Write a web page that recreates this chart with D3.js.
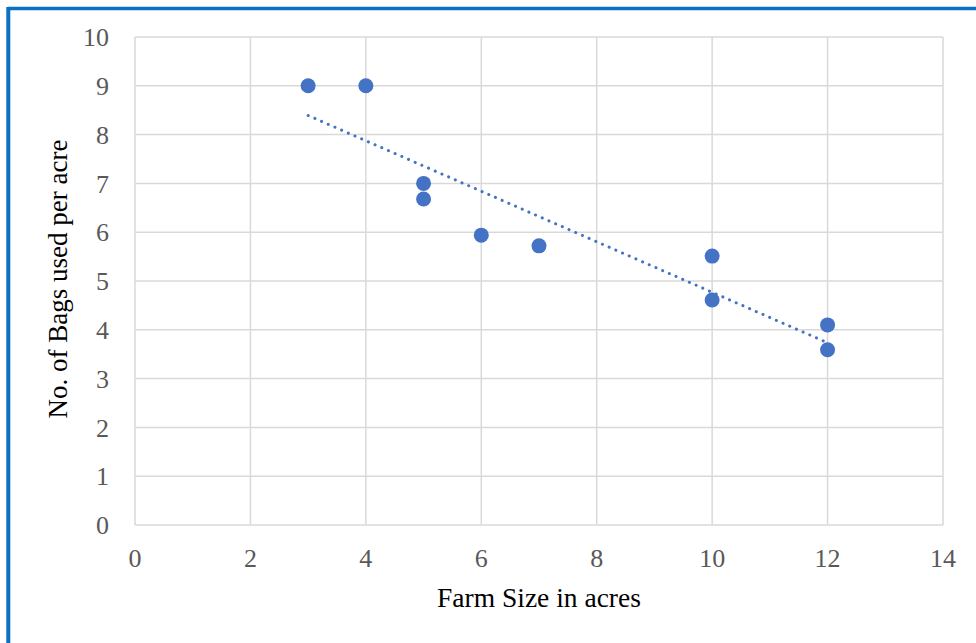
<!DOCTYPE html>
<html><head><meta charset="utf-8">
<script src="https://cdn.jsdelivr.net/npm/d3@7"></script>
<style>html,body{margin:0;padding:0;background:#fff;}svg{display:block;}</style>
</head><body>
<svg id="c" width="976" height="643"></svg>
<script>
const farmSize = [3, 4, 5, 5, 6, 7, 10, 10, 12, 12];
const bagsPerAcre = [9.0, 9.0, 7.0, 6.68, 5.94, 5.72, 5.51, 4.61, 4.10, 3.59];
const xTicks = [0, 2, 4, 6, 8, 10, 12, 14];
const yTicks = [0, 1, 2, 3, 4, 5, 6, 7, 8, 9, 10];
const xTitle = "Farm Size in acres";
const yTitle = "No. of Bags used per acre";

const svg = d3.select("#c");
const W = 976, H = 643;
const m = {left: 135, right: 943, top: 37, bottom: 525};
const x = d3.scaleLinear().domain([0, 14]).range([m.left, m.right]);
const y = d3.scaleLinear().domain([0, 10]).range([m.bottom, m.top]);

// outer border (top and left visible)
svg.append("line").attr("x1", 8).attr("x2", W).attr("y1", 8.5).attr("y2", 8.5)
  .attr("stroke", "#0a70c4").attr("stroke-width", 3.5);
svg.append("line").attr("x1", 8.3).attr("x2", 8.3).attr("y1", 7).attr("y2", H)
  .attr("stroke", "#0a70c4").attr("stroke-width", 4);

const grid = svg.append("g");
grid.selectAll("line.v").data(xTicks).join("line")
  .attr("x1", d => x(d)).attr("x2", d => x(d)).attr("y1", m.top).attr("y2", m.bottom)
  .attr("stroke", "#d9d9d9").attr("stroke-width", 1.5);
grid.selectAll("line.h").data(yTicks).join("line")
  .attr("y1", d => y(d)).attr("y2", d => y(d)).attr("x1", m.left).attr("x2", m.right)
  .attr("stroke", "#d9d9d9").attr("stroke-width", 1.5);

const font = "'Liberation Serif', serif";
svg.append("g").selectAll("text").data(yTicks).join("text")
  .attr("x", 109).attr("y", d => y(d)).attr("dy", "0.35em")
  .attr("text-anchor", "end").attr("font-family", font).attr("font-size", 26)
  .attr("fill", "#595959").text(d => d);
svg.append("g").selectAll("text").data(xTicks).join("text")
  .attr("x", d => x(d)).attr("y", 558).attr("dy", "0.35em")
  .attr("text-anchor", "middle").attr("font-family", font).attr("font-size", 26)
  .attr("fill", "#595959").text(d => d);

svg.append("text").attr("x", (m.left + m.right) / 2 + 0).attr("y", 607)
  .attr("text-anchor", "middle").attr("font-family", font).attr("font-size", 27.5)
  .attr("fill", "#000").text(xTitle);
svg.append("text").attr("transform", "translate(67," + ((140 + 418) / 2) + ") rotate(-90)")
  .attr("text-anchor", "middle").attr("font-family", font).attr("font-size", 27)
  .attr("fill", "#000").text(yTitle);

// linear trendline (least squares) from data
const n = farmSize.length;
const mx = d3.mean(farmSize), my = d3.mean(bagsPerAcre);
let sxy = 0, sxx = 0;
for (let i = 0; i < n; i++) { sxy += (farmSize[i] - mx) * (bagsPerAcre[i] - my); sxx += (farmSize[i] - mx) ** 2; }
const slope = sxy / sxx, icpt = my - slope * mx;
const xr = d3.extent(farmSize);
svg.append("line")
  .attr("x1", x(xr[0])).attr("y1", y(icpt + slope * xr[0]))
  .attr("x2", x(xr[1])).attr("y2", y(icpt + slope * xr[1]))
  .attr("stroke", "#4472c4").attr("stroke-width", 3)
  .attr("stroke-linecap", "round").attr("stroke-dasharray", "0.1,7.2");

svg.append("g").selectAll("circle").data(farmSize).join("circle")
  .attr("cx", d => x(d)).attr("cy", (d, i) => y(bagsPerAcre[i])).attr("r", 7.5)
  .attr("fill", "#4472c4");
</script>
</body></html>
